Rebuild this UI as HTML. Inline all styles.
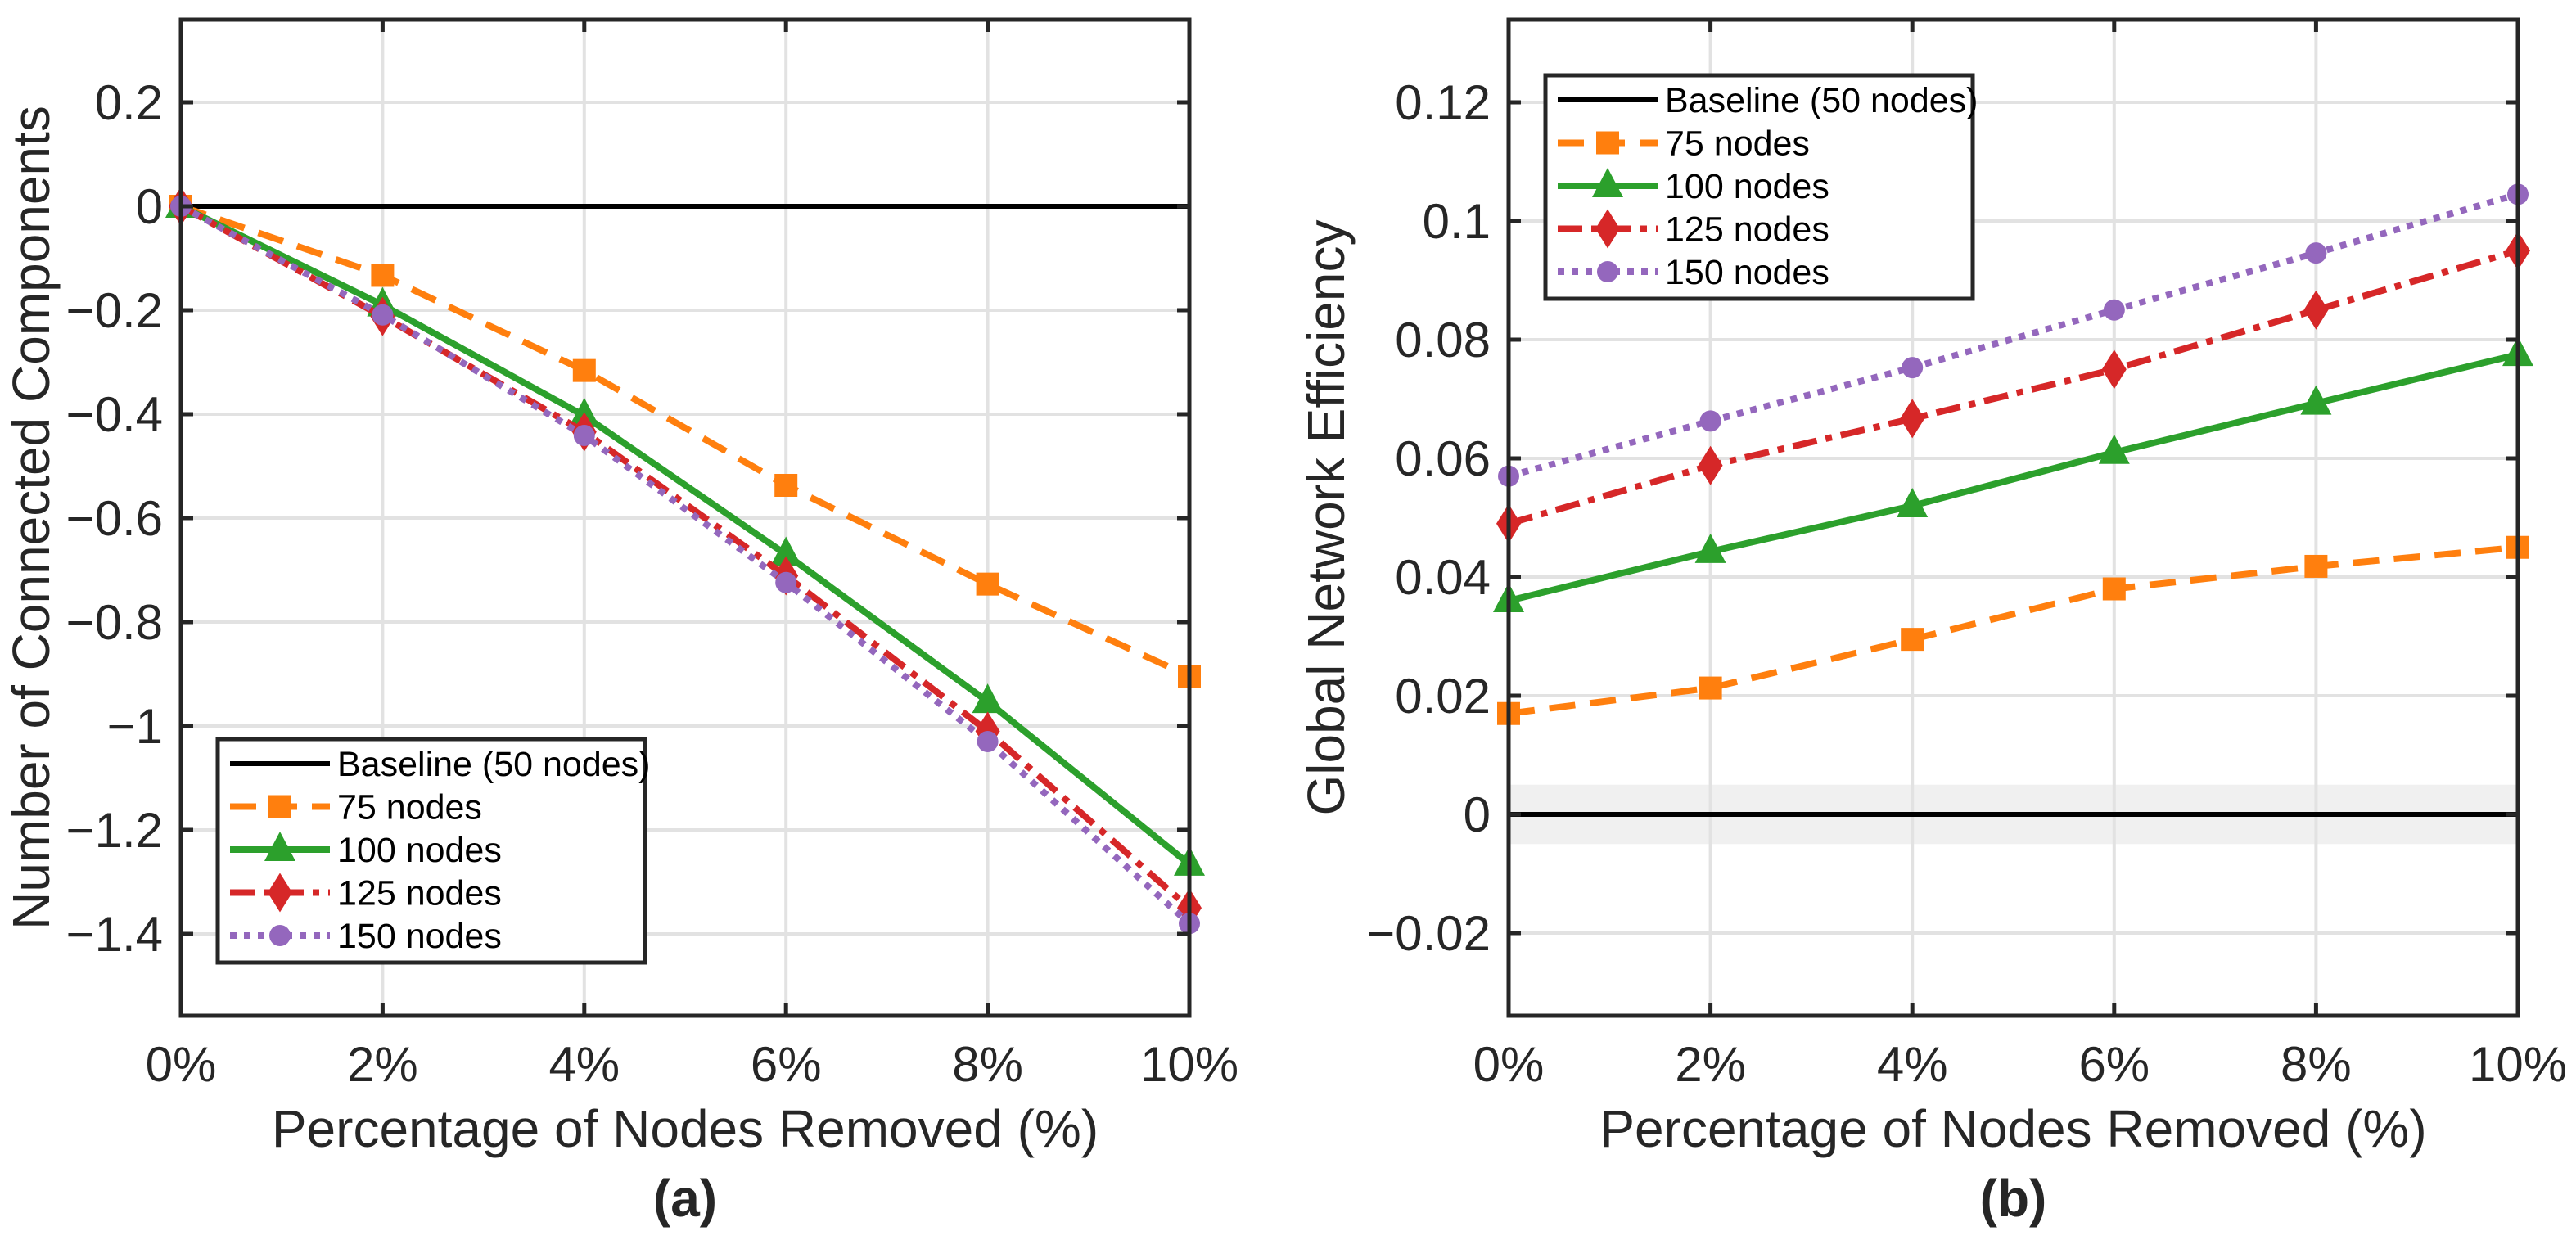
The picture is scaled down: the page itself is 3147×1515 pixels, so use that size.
<!DOCTYPE html>
<html><head><meta charset="utf-8"><style>
html,body{margin:0;padding:0;background:#fff;}
svg{display:block;font-family:"Liberation Sans",Arial,sans-serif;}
</style></head><body>
<svg id="fig" width="3147" height="1515" viewBox="0 0 3147 1515" xmlns="http://www.w3.org/2000/svg"></svg>
<script>
const xCats = [0, 2, 4, 6, 8, 10];
const xTickLabels = ["0%", "2%", "4%", "6%", "8%", "10%"];
const seriesNames = ["75 nodes", "100 nodes", "125 nodes", "150 nodes"];
const compA75 = [0, -0.133, -0.316, -0.537, -0.727, -0.904];
const compA100 = [0, -0.19, -0.403, -0.670, -0.953, -1.266];
const compA125 = [0, -0.212, -0.434, -0.711, -1.010, -1.350];
const compA150 = [0, -0.209, -0.441, -0.724, -1.030, -1.380];
const effB75 = [0.017, 0.0213, 0.0295, 0.038, 0.0418, 0.045];
const effB100 = [0.036, 0.0443, 0.052, 0.061, 0.0693, 0.0775];
const effB125 = [0.049, 0.0588, 0.0667, 0.075, 0.085, 0.095];
const effB150 = [0.057, 0.0663, 0.0753, 0.085, 0.0946, 0.1045];
const yTicksA = [0.2, 0, -0.2, -0.4, -0.6, -0.8, -1, -1.2, -1.4];
const yTickLabelsA = ["0.2", "0", "\u22120.2", "\u22120.4", "\u22120.6", "\u22120.8", "\u22121", "\u22121.2", "\u22121.4"];
const yTicksB = [0.12, 0.1, 0.08, 0.06, 0.04, 0.02, 0, -0.02];
const yTickLabelsB = ["0.12", "0.1", "0.08", "0.06", "0.04", "0.02", "0", "\u22120.02"];

const NS = "http://www.w3.org/2000/svg";
const svg = document.getElementById("fig");
function mk(tag, attrs, parent) {
  const e = document.createElementNS(NS, tag);
  for (const k in attrs) e.setAttribute(k, attrs[k]);
  (parent || svg).appendChild(e);
  return e;
}
const styles = [
  {color: "#ff7f0e", dash: "32,18", marker: "square"},
  {color: "#2ca02c", dash: "", marker: "triangle"},
  {color: "#d62728", dash: "30,11,8,11", marker: "diamond"},
  {color: "#9467bd", dash: "8,9", marker: "circle"}
];
function marker(g, type, cx, cy, color) {
  let m;
  if (type === "square") m = mk("rect", {x: cx - 14, y: cy - 14, width: 28, height: 28, fill: color}, g);
  else if (type === "triangle") m = mk("polygon", {points: `${cx},${cy - 22} ${cx + 19},${cy + 14} ${cx - 19},${cy + 14}`, fill: color}, g);
  else if (type === "diamond") m = mk("polygon", {points: `${cx},${cy - 24} ${cx + 15},${cy} ${cx},${cy + 24} ${cx - 15},${cy}`, fill: color}, g);
  else m = mk("circle", {cx: cx, cy: cy, r: 13, fill: color}, g);
  
  
  return m;
}

function panel(cfg) {
  const g = mk("g", {});
  
  
  const L = cfg.L, R = cfg.R, T = 24, B = 1241;
  const xs = v => L + (v - 0) / 10 * (R - L);
  const ys = v => cfg.y0 - v * cfg.k;
  mk("rect", {x: L, y: T, width: R - L, height: B - T, fill: "#fff"}, g);
  if (cfg.band) {
    const band = mk("rect", {x: L, y: ys(0.005), width: R - L, height: ys(-0.005) - ys(0.005), fill: "#f0f0f0"}, g);
    
    
  }
  cfg.yTicks.forEach(v => {
    const gl = mk("line", {x1: L, x2: R, y1: ys(v), y2: ys(v), stroke: "#e2e2e2", "stroke-width": 4}, g);
    
    
  });
  xCats.forEach(v => {
    const gl = mk("line", {x1: xs(v), x2: xs(v), y1: T, y2: B, stroke: "#e2e2e2", "stroke-width": 4}, g);
    
    
  });
  const bl = mk("line", {x1: L, x2: R, y1: ys(0), y2: ys(0), stroke: "#000", "stroke-width": 6}, g);
  
  
  cfg.series.forEach((arr, i) => {
    const st = styles[i];
    const pts = arr.map((v, j) => xs(xCats[j]) + "," + ys(v)).join(" ");
    const pl = mk("polyline", {points: pts, fill: "none", stroke: st.color, "stroke-width": 8, "stroke-dasharray": st.dash}, g);
    
    
    arr.forEach((v, j) => marker(g, st.marker, xs(xCats[j]), ys(v), st.color));
  });
  const box = mk("rect", {x: L, y: T, width: R - L, height: B - T, fill: "none", stroke: "#262626", "stroke-width": 5}, g);
  
  
  cfg.yTicks.forEach((v, i) => {
    mk("line", {x1: L, x2: L + 15, y1: ys(v), y2: ys(v), stroke: "#262626", "stroke-width": 5}, g);
    mk("line", {x1: R - 15, x2: R, y1: ys(v), y2: ys(v), stroke: "#262626", "stroke-width": 5}, g);
    const t = mk("text", {x: L - 22, y: ys(v) + 21, "text-anchor": "end", "font-size": 60, fill: "#262626"}, g);
    t.textContent = cfg.yLabels[i];
    
    
  });
  xCats.forEach((v, i) => {
    mk("line", {x1: xs(v), x2: xs(v), y1: B - 15, y2: B, stroke: "#262626", "stroke-width": 5}, g);
    mk("line", {x1: xs(v), x2: xs(v), y1: T, y2: T + 15, stroke: "#262626", "stroke-width": 5}, g);
    const t = mk("text", {x: xs(v), y: 1321, "text-anchor": "middle", "font-size": 60, fill: "#262626"}, g);
    t.textContent = xTickLabels[i];
    
    
  });
  const xt = mk("text", {x: (L + R) / 2, y: 1401, "text-anchor": "middle", "font-size": 64, fill: "#262626"}, g);
  xt.textContent = "Percentage of Nodes Removed (%)";
  
  
  const yt = mk("text", {x: 0, y: 0, "text-anchor": "middle", "font-size": 64, fill: "#262626", transform: `translate(${cfg.ytX},${(T + B) / 2}) rotate(-90)`}, g);
  yt.textContent = cfg.yTitle;
  
  
  const cap = mk("text", {x: (L + R) / 2, y: 1486, "text-anchor": "middle", "font-size": 64, "font-weight": "bold", fill: "#262626"}, g);
  cap.textContent = cfg.caption;
  
  
  const lg = mk("g", {}, g);
  
  
  const lx = cfg.legX, ly = cfg.legY;
  mk("rect", {x: lx, y: ly, width: 522, height: 273, fill: "#fff", stroke: "#262626", "stroke-width": 5}, lg);
  const names = ["Baseline (50 nodes)"].concat(seriesNames);
  names.forEach((n, i) => {
    const ry = ly + 30 + i * 52.5;
    const e = mk("g", {}, lg);
    
    
    if (i === 0) mk("line", {x1: lx + 15, x2: lx + 137, y1: ry, y2: ry, stroke: "#000", "stroke-width": 6}, e);
    else {
      const st = styles[i - 1];
      mk("line", {x1: lx + 15, x2: lx + 137, y1: ry, y2: ry, stroke: st.color, "stroke-width": 8, "stroke-dasharray": st.dash}, e);
      marker(e, st.marker, lx + 76, ry, st.color);
    }
    const t = mk("text", {x: lx + 146, y: ry + 15, "font-size": 43, fill: "#000"}, e);
    t.textContent = n;
  });
}

panel({name: "panel-a", L: 221, R: 1453, y0: 252, k: 635, yTicks: yTicksA, yLabels: yTickLabelsA,
  series: [compA75, compA100, compA125, compA150], ytX: 60, yTitle: "Number of Connected Components",
  caption: "(a)", legX: 266, legY: 903, band: false});
panel({name: "panel-b", L: 1843, R: 3076, y0: 995, k: 7250, yTicks: yTicksB, yLabels: yTickLabelsB,
  series: [effB75, effB100, effB125, effB150], ytX: 1642, yTitle: "Global Network Efficiency",
  caption: "(b)", legX: 1888, legY: 92, band: true});
</script>
</body></html>
